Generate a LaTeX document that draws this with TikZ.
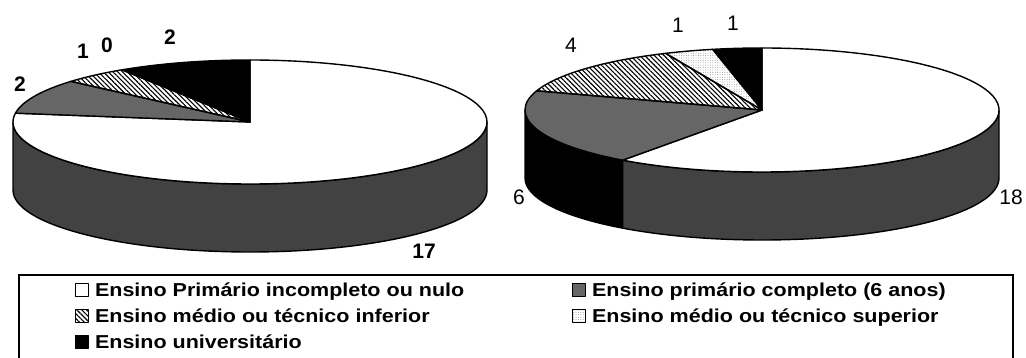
\documentclass[tikz,border=0pt]{standalone}
\usepackage{fontspec}
\setmainfont{Liberation Sans}
\newfontfamily\legendfont[FakeStretch=1.15]{Liberation Sans}
\usetikzlibrary{patterns.meta}
\usetikzlibrary{positioning}
\definecolor{SliceGray}{gray}{0.40}
\definecolor{SideGray}{gray}{0.26}
\newcommand*{\PieRx}{237}
\newcommand*{\PieRy}{62}
\newcommand*{\PieDepth}{68}
\newcommand*{\PieSlice}[3]{%
	\filldraw[#1] (0,0) -- ({\PieRx*cos(#2)},{\PieRy*sin(#2)})
		arc[start angle=#2, end angle=#3, x radius=\PieRx pt, y radius=\PieRy pt] -- cycle;}
\newcommand*{\PieSide}[3]{%
	\filldraw[#1] ({\PieRx*cos(#2)},{\PieRy*sin(#2)})
		arc[start angle=#2, end angle=#3, x radius=\PieRx pt, y radius=\PieRy pt]
		-- ++(0,-\PieDepth)
		arc[start angle=#3, end angle=#2, x radius=\PieRx pt, y radius=\PieRy pt] -- cycle;}

\begin{document}
\begin{tikzpicture}
	[x=1pt, y=1pt,
	pieline/.style={draw=black, line width=1.4pt, line join=round},
	nulo/.style={pieline, fill=white},
	primario/.style={pieline, fill=SliceGray},
	inferior/.style={pieline, pattern={Lines[angle=-45, distance=3.4pt, line width=1.1pt]}},
	superior/.style={pieline, pattern={Dots[distance=2.4pt, radius=0.45pt]}, pattern color=gray},
	universitario/.style={pieline, fill=black},
	nuloside/.style={pieline, fill=SideGray},
	primarioside/.style={pieline, fill=black},
	keybox/.style={minimum size=12.5pt, inner sep=0pt, line width=1.2pt},
	keytext/.style={font=\legendfont\bfseries\fontsize{18.7}{22}\selectfont, inner sep=0pt, text height=13.4pt, text depth=0pt},
	boldlabel/.style={font=\bfseries\fontsize{21}{24}\selectfont, inner sep=0pt},
	plainlabel/.style={font=\fontsize{21}{24}\selectfont, inner sep=0pt}]
	\useasboundingbox (0,0) rectangle (1026,358);

	%Left pie
	\begin{scope}[shift={(250,236)}]
		\PieSide{nuloside}{180}{360}
		\foreach \s/\a/\b in {nulo/171.818/450, primario/139.091/171.818, inferior/122.727/139.091, universitario/90/122.727}
		{
			\PieSlice{\s}{\a}{\b}
		}
	\end{scope}
	\node[boldlabel] (lprimario) at (20,274) {2};
	\node[boldlabel] (linferior) at (83,307) {1};
	\node[boldlabel] (lsuperior) at (107,313) {0};
	\node[boldlabel] (luniv) at (170,321) {2};
	\node[boldlabel] (lnulo) at (424,107) {17};

	%Right pie
	\begin{scope}[shift={(762,248)}]
		\PieSide{primarioside}{180}{234}
		\PieSide{nuloside}{234}{360}
		\foreach \s/\a/\b in {nulo/234/450, primario/162/234, inferior/114/162, superior/102/114, universitario/90/102}
		{
			\PieSlice{\s}{\a}{\b}
		}
	\end{scope}
	\node[plainlabel] (rinferior) at (571,313) {4};
	\node[plainlabel] (rsuperior) at (678,333) {1};
	\node[plainlabel] (runiv) at (733,335) {1};
	\node[plainlabel] (rprimario) at (519,161) {6};
	\node[plainlabel] (rnulo) at (1011,161) {18};

	%Legend
	\draw[line width=1.2pt] (19,83) rectangle (1013,-20);
	\node[nulo, keybox] (knulo) at (82,68) {};
	\node[keytext, right=6pt of knulo] (tnulo) {Ensino Primário incompleto ou nulo};
	\node[inferior, keybox] (kinferior) at (82,42) {};
	\node[keytext, right=6pt of kinferior] (tinferior) {Ensino médio ou técnico inferior};
	\node[universitario, keybox] (kuniv) at (82,16) {};
	\node[keytext, right=6pt of kuniv] (tuniv) {Ensino universitário};
	\node[primario, keybox] (kprimario) at (579,68) {};
	\node[keytext, right=6pt of kprimario] (tprimario) {Ensino primário completo (6 anos)};
	\node[superior, keybox] (ksuperior) at (579,42) {};
	\node[keytext, right=6pt of ksuperior] (tsuperior) {Ensino médio ou técnico superior};
\end{tikzpicture}
\end{document}
